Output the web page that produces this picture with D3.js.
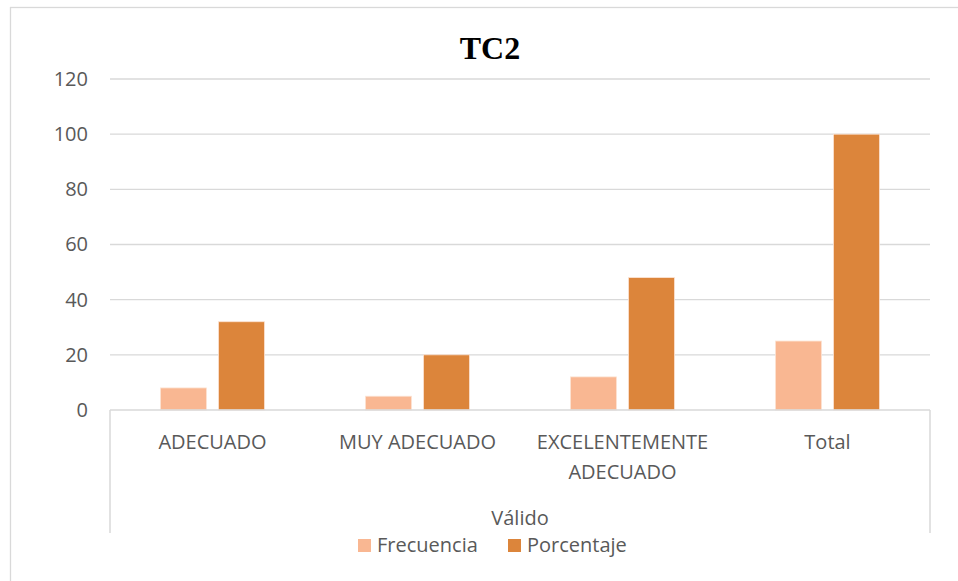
<!DOCTYPE html>
<html>
<head>
<meta charset="utf-8">
<script src="https://cdn.jsdelivr.net/npm/d3@7"></script>
<style>
  html, body { margin: 0; padding: 0; background: #fff; }
  svg { display: block; }
</style>
</head>
<body>
<svg id="chart" width="958" height="581"></svg>
<script>
const title = "TC2";
const categories = [["ADECUADO"], ["MUY ADECUADO"], ["EXCELENTEMENTE", "ADECUADO"], ["Total"]];
const groupLabel = "Válido";
const seriesNames = ["Frecuencia", "Porcentaje"];
const frecuencia = [8, 5, 12, 25];
const porcentaje = [32, 20, 48, 100];
const yTicks = [0, 20, 40, 60, 80, 100, 120];
const colors = ["#F9B792", "#DC853B"];

(function () {
const svg = d3.select("#chart");
const font = "'Open Sans', sans-serif";
const textColor = "#595959";
const gridColor = "#D9D9D9";

const pLeft = 110, pRight = 930, pTop = 79, pBottom = 410;

// outer border
svg.append("rect").attr("x", 10.5).attr("y", 7.5).attr("width", 1000).attr("height", 700)
  .attr("fill", "none").attr("stroke", gridColor).attr("stroke-width", 1.3);

const x0 = d3.scaleBand().domain(d3.range(categories.length)).range([pLeft, pRight]).paddingInner(0).paddingOuter(0);
const x1 = d3.scaleBand().domain(seriesNames).range([50.5, x0.bandwidth() - 50.5]).paddingInner(0.207);
const y = d3.scaleLinear().domain([0, 120]).range([pBottom, pTop]);

// gridlines
svg.append("g").selectAll("line").data(yTicks.filter(d => d > 0)).join("line")
  .attr("x1", pLeft).attr("x2", pRight)
  .attr("y1", d => y(d)).attr("y2", d => y(d))
  .attr("stroke", gridColor).attr("stroke-width", 1.3);

// y axis labels via d3 axis
const yAxis = svg.append("g").attr("transform", `translate(${pLeft},0)`)
  .call(d3.axisLeft(y).tickValues(yTicks).tickSize(0).tickPadding(22));
yAxis.select(".domain").remove();
yAxis.selectAll("text").attr("font-family", font).attr("font-size", 20).attr("fill", textColor);

// bars
const data = categories.map((c, i) => ({ i, vals: [frecuencia[i], porcentaje[i]] }));
const g = svg.append("g").selectAll("g").data(data).join("g")
  .attr("transform", d => `translate(${x0(d.i)},0)`);
g.selectAll("rect").data(d => d.vals.map((v, k) => ({ v, k }))).join("rect")
  .attr("x", d => x1(seriesNames[d.k]))
  .attr("width", x1.bandwidth())
  .attr("y", d => y(d.v))
  .attr("height", d => y(0) - y(d.v))
  .attr("fill", d => colors[d.k])
  .attr("stroke", "#FCE3D3").attr("stroke-width", 0.8);

// baseline + category axis frame
svg.append("line").attr("x1", pLeft).attr("x2", pRight).attr("y1", pBottom).attr("y2", pBottom)
  .attr("stroke", gridColor).attr("stroke-width", 1.5);
[pLeft, pRight].forEach(xv => {
  svg.append("line").attr("x1", xv).attr("x2", xv).attr("y1", pBottom).attr("y2", 533)
    .attr("stroke", gridColor).attr("stroke-width", 1.5);
});

// category labels
const cl = svg.append("g").selectAll("text").data(categories).join("text")
  .attr("x", (d, i) => x0(i) + x0.bandwidth() / 2)
  .attr("y", 449)
  .attr("text-anchor", "middle")
  .attr("font-family", font).attr("font-size", 20).attr("fill", textColor);
cl.selectAll("tspan").data(d => d).join("tspan")
  .attr("x", function() { return this.parentNode.getAttribute("x"); })
  .attr("dy", (d, i) => i === 0 ? 0 : 30)
  .text(d => d);

// group label
svg.append("text").attr("x", (pLeft + pRight) / 2).attr("y", 525)
  .attr("text-anchor", "middle").attr("font-family", font).attr("font-size", 20)
  .attr("fill", textColor).text(groupLabel);

// title
svg.append("text").attr("x", 490).attr("y", 59)
  .attr("text-anchor", "middle").attr("font-family", "'Liberation Serif', 'Times New Roman', serif")
  .attr("font-weight", "bold").attr("font-size", 32).attr("fill", "#000").text(title);

// legend
const legendX = [358, 508];
seriesNames.forEach((s, k) => {
  svg.append("rect").attr("x", legendX[k]).attr("y", 539).attr("width", 13).attr("height", 13)
    .attr("fill", colors[k]);
  svg.append("text").attr("x", legendX[k] + 19).attr("y", 552)
    .attr("font-family", font).attr("font-size", 20).attr("fill", textColor).text(s);
});
})();
</script>
</body>
</html>
